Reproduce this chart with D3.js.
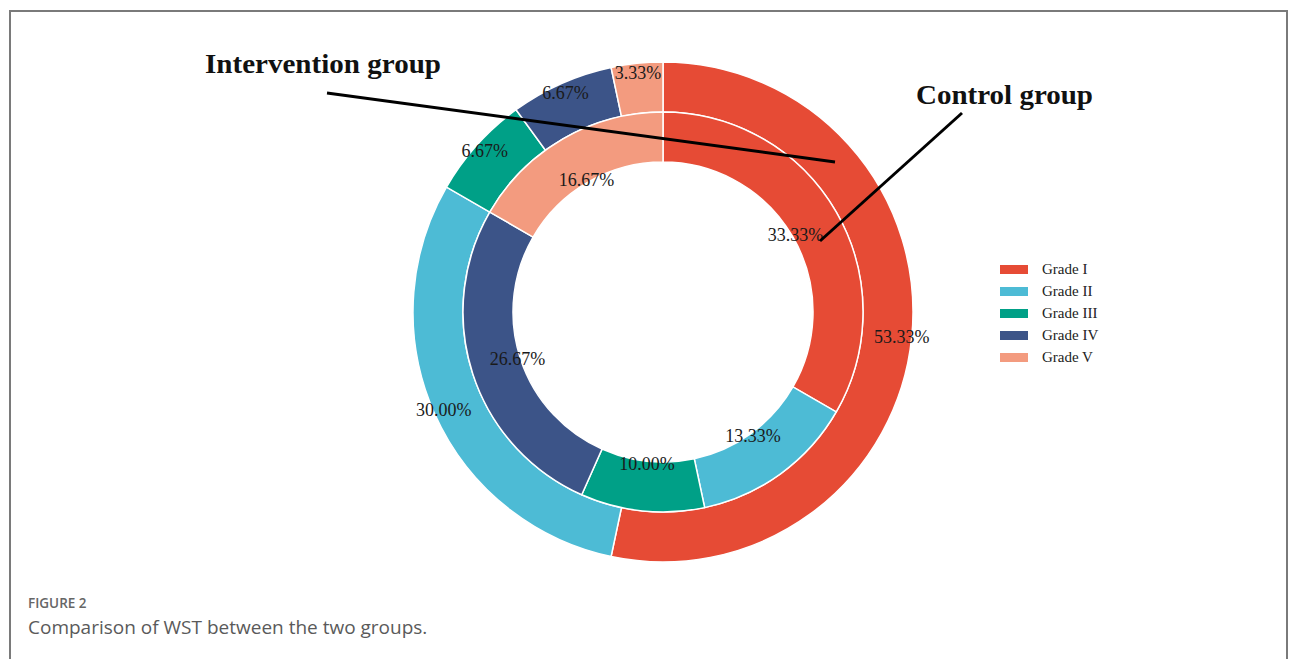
<!DOCTYPE html>
<html><head><meta charset="utf-8">
<script src="https://cdn.jsdelivr.net/npm/d3@7"></script>
<style>html,body{margin:0;padding:0;background:#fff;}svg{display:block;}</style>
</head><body>
<svg id="chart" width="1295" height="659"></svg>
<script>
const categories = ["Grade I", "Grade II", "Grade III", "Grade IV", "Grade V"];
const interventionValues = [53.33, 30.00, 6.67, 6.67, 3.33];
const controlValues = [33.33, 13.33, 10.00, 26.67, 16.67];
const colors = ["#E64B35", "#4DBBD5", "#00A087", "#3C5488", "#F39B7F"];
const groupLabels = ["Intervention group", "Control group"];

const svg = d3.select("#chart");
// frame
svg.append("path").attr("d", "M10,659 L10,11 L1287,11 L1287,659")
  .attr("fill", "none").attr("stroke", "#7a7a7a").attr("stroke-width", 2);

const cx = 663, cy = 312;
const g = svg.append("g").attr("transform", `translate(${cx},${cy})`);
const pie = d3.pie().sort(null).value(d => d);
const color = d3.scaleOrdinal().domain(categories).range(colors);

function ring(values, rIn, rOut, labelR) {
  const arcs = pie(values);
  const arc = d3.arc().innerRadius(rIn).outerRadius(rOut);
  const lab = d3.arc().innerRadius(labelR).outerRadius(labelR);
  const gg = g.append("g");
  gg.selectAll("path").data(arcs).join("path")
    .attr("d", arc).attr("fill", (d, i) => color(categories[i]))
    .attr("stroke", "#fff").attr("stroke-width", 1.5);
  return {arcs, lab};
}
const outer = ring(interventionValues, 200, 250, 240);
const inner = ring(controlValues, 150, 200, 153);

function labels(r) {
  g.append("g").selectAll("text").data(r.arcs).join("text")
    .attr("transform", d => `translate(${r.lab.centroid(d)})`)
    .attr("text-anchor", "middle").attr("dominant-baseline", "central")
    .attr("font-family", "Liberation Serif, Times New Roman, serif")
    .attr("font-size", 18).attr("fill", "#1a1a1a")
    .text(d => d.data.toFixed(2) + "%");
}
labels(outer);
labels(inner);

// annotations
const ann = svg.append("g");
ann.append("line").attr("x1", 327).attr("y1", 93).attr("x2", 835).attr("y2", 162)
  .attr("stroke", "#000").attr("stroke-width", 3);
ann.append("line").attr("x1", 962).attr("y1", 113).attr("x2", 820).attr("y2", 241)
  .attr("stroke", "#000").attr("stroke-width", 3);
ann.append("text").attr("x", 205).attr("y", 73)
  .attr("font-family", "Liberation Serif, Times New Roman, serif")
  .attr("font-weight", "bold").attr("font-size", 27).attr("fill", "#111")
  .attr("textLength", 236).attr("lengthAdjust", "spacingAndGlyphs")
  .text(groupLabels[0]);
ann.append("text").attr("x", 916).attr("y", 104)
  .attr("font-family", "Liberation Serif, Times New Roman, serif")
  .attr("font-weight", "bold").attr("font-size", 27).attr("fill", "#111")
  .attr("textLength", 177).attr("lengthAdjust", "spacingAndGlyphs")
  .text(groupLabels[1]);

// legend
const leg = svg.append("g").attr("transform", "translate(1000,269)");
const items = leg.selectAll("g").data(categories).join("g")
  .attr("transform", (d, i) => `translate(0,${i * 22})`);
items.append("rect").attr("x", 0).attr("y", -4).attr("width", 28).attr("height", 9)
  .attr("fill", d => color(d));
items.append("text").attr("x", 42).attr("y", 0).attr("dominant-baseline", "central")
  .attr("font-family", "Liberation Serif, Times New Roman, serif")
  .attr("font-size", 15).attr("fill", "#222").text(d => d);

// caption
svg.append("text").attr("x", 28).attr("y", 608)
  .attr("font-family", "Open Sans, sans-serif").attr("font-weight", 600)
  .attr("font-size", 13.5).attr("fill", "#666").text("FIGURE 2");
svg.append("text").attr("x", 28).attr("y", 634)
  .attr("font-family", "Open Sans, sans-serif")
  .attr("font-size", 19).attr("fill", "#5a5a5a").text("Comparison of WST between the two groups.");
</script>
</body></html>
